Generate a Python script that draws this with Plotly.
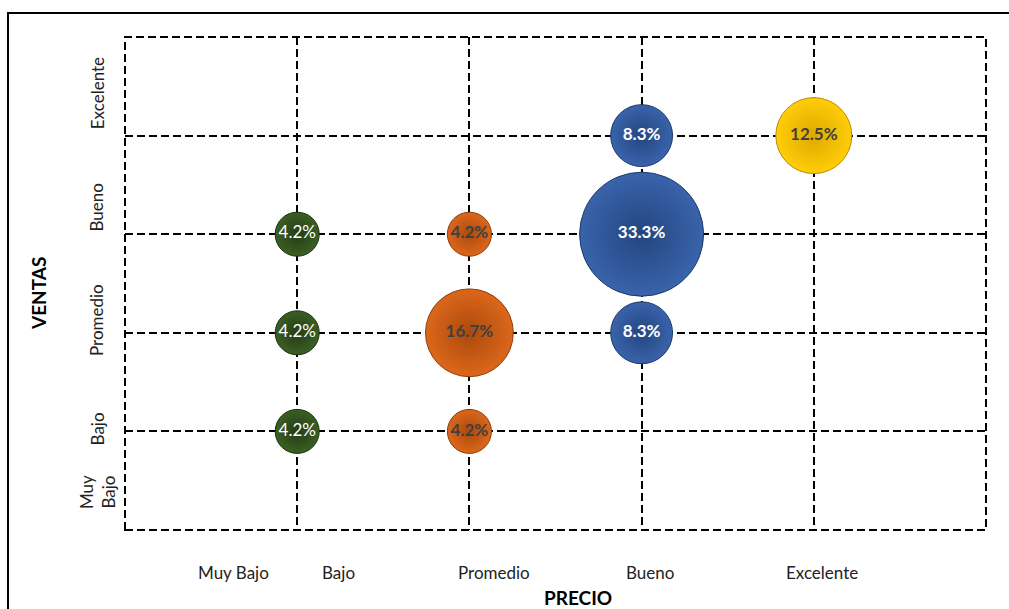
import plotly.graph_objects as go

# Category labels
x_labels = ["Muy Bajo", "Bajo", "Promedio", "Bueno", "Excelente"]
y_labels = ["Muy\nBajo", "Bajo", "Promedio", "Bueno", "Excelente"]

# Label positions (in axis units) as placed in the original chart
x_label_pos = [0.63, 1.24, 2.14, 3.05, 4.05]
y_label_pos = [0.385, 1.02, 2.13, 3.27, 4.43]

# Series: x = precio level, y = ventas level, value = share (%)
green_x = [1, 1, 1]
green_y = [1, 2, 3]
green_v = [4.2, 4.2, 4.2]

orange_x = [2, 2, 2]
orange_y = [1, 2, 3]
orange_v = [4.2, 16.7, 4.2]

blue_x = [3, 3, 3]
blue_y = [2, 3, 4]
blue_v = [8.3, 33.3, 8.3]

yellow_x = [4]
yellow_y = [4]
yellow_v = [12.5]

FONT = "Lato"
SIZEREF = 33.3 / (2 * 62 ** 2)

series = [
    (green_x, green_y, green_v, "#3b5f24", "#243b14", "#1c300d", "white", "normal"),
    (orange_x, orange_y, orange_v, "#dc671b", "#ab490c", "#8e3c08", "#404040", "bold"),
    (blue_x, blue_y, blue_v, "#3963ab", "#24467f", "#1d3a6a", "white", "bold"),
    (yellow_x, yellow_y, yellow_v, "#ffcd08", "#dcaa00", "#b88c00", "#404040", "bold"),
]

fig = go.Figure()
for xs, ys, vs, c, gc, lc, tc, tw in series:
    fig.add_trace(go.Scatter(
        x=xs, y=ys, mode="markers+text",
        text=[f"{v:.1f}%" for v in vs],
        textposition="middle center",
        textfont=dict(family=FONT, size=17, color=tc, weight=tw),
        marker=dict(
            size=vs, sizemode="area", sizeref=SIZEREF,
            color=c, opacity=1,
            gradient=dict(type="radial", color=gc),
            line=dict(color=lc, width=1),
        ),
        showlegend=False, hoverinfo="skip", cliponaxis=False,
    ))

DASH = "8px,4px"
axis_common = dict(
    range=[0, 5], tickvals=[1, 2, 3, 4], showticklabels=False, ticks="",
    showgrid=True, gridcolor="black", gridwidth=2, griddash=DASH,
    zeroline=False, showline=False, fixedrange=True,
)

annotations = []
for lab, pos in zip(x_labels, x_label_pos):
    annotations.append(dict(
        text=lab, x=pos, xref="x", y=0, yref="paper", yshift=-42,
        xanchor="center", yanchor="middle", showarrow=False,
        font=dict(family=FONT, size=17, color="#222222"),
    ))
for lab, pos in zip(y_labels, y_label_pos):
    annotations.append(dict(
        text=lab.replace("\n", "<br>"), x=0, xref="paper", xshift=-28,
        y=pos, yref="y", xanchor="center", yanchor="middle",
        textangle=-90, showarrow=False,
        font=dict(family=FONT, size=17, color="#222222"),
    ))
annotations.append(dict(
    text="<b>VENTAS</b>", x=0, xref="paper", xshift=-87, y=(530 - 294) / 493, yref="paper",
    xanchor="center", yanchor="middle", textangle=-90, showarrow=False,
    font=dict(family=FONT, size=19, color="black"),
))
annotations.append(dict(
    text="<b>PRECIO</b>", x=(578 - 125) / 861, xref="paper", y=0, yref="paper", yshift=-67,
    xanchor="center", yanchor="middle", showarrow=False,
    font=dict(family=FONT, size=19, color="black"),
))

shapes = [
    # plot area border (dashed)
    dict(type="rect", xref="paper", yref="paper", x0=0, x1=1, y0=0, y1=1,
         line=dict(color="black", width=2, dash=DASH), layer="below"),
    # outer chart frame
    dict(type="rect", xref="paper", yref="paper",
         x0=(8 - 125) / 861, x1=(1020 - 125) / 861,
         y0=(530 - 620) / 493, y1=(530 - 13) / 493,
         line=dict(color="black", width=2), layer="below"),
]

fig.update_layout(
    width=1009, height=609,
    margin=dict(l=125, r=23, t=37, b=79),
    paper_bgcolor="white", plot_bgcolor="white",
    xaxis=axis_common, yaxis=axis_common,
    annotations=annotations, shapes=shapes,
    font=dict(family=FONT),
)

fig.write_html("out.html", config={"displayModeBar": False})
